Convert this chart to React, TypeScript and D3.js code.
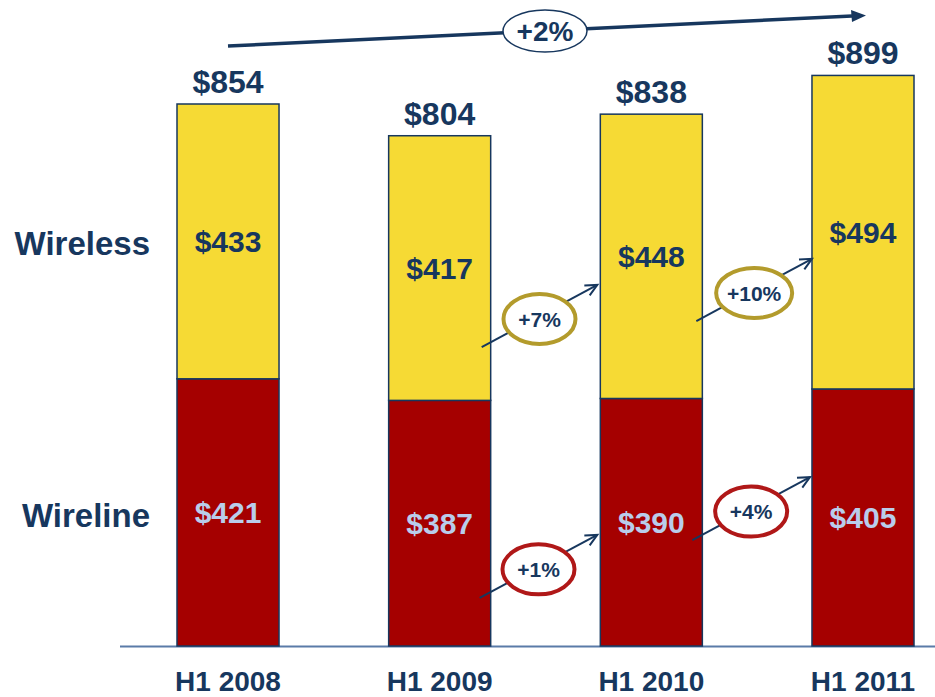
import React from "react";
import * as d3 from "d3";

const categories = ["H1 2008", "H1 2009", "H1 2010", "H1 2011"];
const wireline = [421, 387, 390, 405];
const wireless = [433, 417, 448, 494];
const totals = [854, 804, 838, 899];
const seriesNames = ["Wireless", "Wireline"];
const wirelessGrowth = ["+7%", "+10%"];
const wirelineGrowth = ["+1%", "+4%"];
const overallGrowth = "+2%";
// arrow start/end levels (value units) for growth annotations
const wirelessArrowLevels = [[471, 569], [512, 610]];
const wirelineArrowLevels = [[76, 175], [167, 266]];

const W = 935;
const H = 697;
const NAVY = "#17375E";
const YELLOW = "#F6DA34";
const RED = "#A50000";
const LIGHT = "#B9CDEB";
const GOLD = "#B39B2C";
const RING_RED = "#B01818";
const FONT = "'Liberation Sans', Arial, sans-serif";

export default function App() {
  const x = d3.scaleBand<string>().domain(categories).range([177, 914]).paddingInner(0.518).paddingOuter(0);
  const y = d3.scaleLinear().domain([0, 854]).range([646, 104]);
  const bw = x.bandwidth();

  const stack = d3.stack<any>().keys(["wireline", "wireless"])(
    categories.map((c, i) => ({ cat: c, wireline: wireline[i], wireless: wireless[i] }))
  );

  const growthArrow = (i: number, v0: number, v1: number, label: string, ring: string, key: string, dx0: number, dx1: number) => {
    const x0 = (x(categories[i]) as number) + bw + dx0;
    const x1 = (x(categories[i + 1]) as number) + dx1;
    const y0 = y(v0);
    const y1 = y(v1);
    const cx = x0 + (x1 - x0) * 0.5;
    const cy = y0 + (y1 - y0) * 0.5 + 3;
    const ang = Math.atan2(y1 - y0, x1 - x0);
    const ah = 13;
    const a1 = ang + Math.PI - 0.45;
    const a2 = ang + Math.PI + 0.45;
    return (
      <g key={key}>
        <line x1={x0} y1={y0} x2={x1} y2={y1} stroke={NAVY} strokeWidth={2} />
        <polyline
          points={`${x1 + ah * Math.cos(a1)},${y1 + ah * Math.sin(a1)} ${x1},${y1} ${x1 + ah * Math.cos(a2)},${y1 + ah * Math.sin(a2)}`}
          fill="none"
          stroke={NAVY}
          strokeWidth={2}
        />
        <ellipse cx={cx} cy={cy} rx={label.length > 3 ? 38 : 36} ry={25} fill="white" stroke={ring} strokeWidth={4} />
        <text x={cx} y={cy} dy="0.36em" textAnchor="middle" fontFamily={FONT} fontWeight="bold" fontSize={21} fill={NAVY}>
          {label}
        </text>
      </g>
    );
  };

  return (
    <svg width={W} height={H} style={{ display: "block", position: "absolute", left: 0, top: 0 }}>
      <rect x={0} y={0} width={W} height={H} fill="white" />
      {/* axis baseline */}
      <line x1={120} x2={W} y1={646.5} y2={646.5} stroke="#5A7BA8" strokeWidth={2} />
      {/* bars */}
      {stack.map((layer, li) =>
        layer.map((d, i) => (
          <rect
            key={`${li}-${i}`}
            x={x(categories[i]) as number}
            y={y(d[1])}
            width={bw}
            height={y(d[0]) - y(d[1])}
            fill={li === 0 ? RED : YELLOW}
            stroke={NAVY}
            strokeWidth={1.5}
          />
        ))
      )}
      {/* inside labels */}
      {categories.map((c, i) => (
        <g key={c}>
          <text
            x={(x(c) as number) + bw / 2}
            y={y(wireline[i] / 2)}
            dy="0.36em"
            textAnchor="middle"
            fontFamily={FONT}
            fontWeight="bold"
            fontSize={30}
            fill={LIGHT}
          >
            ${wireline[i]}
          </text>
          <text
            x={(x(c) as number) + bw / 2}
            y={y(wireline[i] + wireless[i] / 2)}
            dy="0.36em"
            textAnchor="middle"
            fontFamily={FONT}
            fontWeight="bold"
            fontSize={30}
            fill={NAVY}
          >
            ${wireless[i]}
          </text>
          <text
            x={(x(c) as number) + bw / 2}
            y={y(totals[i]) - 11}
            textAnchor="middle"
            fontFamily={FONT}
            fontWeight="bold"
            fontSize={32}
            fill={NAVY}
          >
            ${totals[i]}
          </text>
          <text
            x={(x(c) as number) + bw / 2}
            y={691}
            textAnchor="middle"
            fontFamily={FONT}
            fontWeight="bold"
            fontSize={28}
            fill={NAVY}
          >
            {c}
          </text>
        </g>
      ))}
      {/* series labels */}
      <text x={150} y={243} dy="0.36em" textAnchor="end" fontFamily={FONT} fontWeight="bold" fontSize={33} fill={NAVY}>
        {seriesNames[0]}
      </text>
      <text x={150} y={515} dy="0.36em" textAnchor="end" fontFamily={FONT} fontWeight="bold" fontSize={33} fill={NAVY}>
        {seriesNames[1]}
      </text>
      {/* growth arrows */}
      {growthArrow(1, wirelessArrowLevels[0][0], wirelessArrowLevels[0][1], wirelessGrowth[0], GOLD, "g7", -9, -3)}
      {growthArrow(2, wirelessArrowLevels[1][0], wirelessArrowLevels[1][1], wirelessGrowth[1], GOLD, "g10", -6, 0)}
      {growthArrow(1, wirelineArrowLevels[0][0], wirelineArrowLevels[0][1], wirelineGrowth[0], RING_RED, "g1", -11, -3)}
      {growthArrow(2, wirelineArrowLevels[1][0], wirelineArrowLevels[1][1], wirelineGrowth[1], RING_RED, "g4", -10, -2)}
      {/* overall arrow */}
      <line x1={228} y1={46} x2={852} y2={16} stroke={NAVY} strokeWidth={3.5} />
      <polygon points="866,15.5 851,10 852,22" fill={NAVY} />
      <ellipse cx={545} cy={31} rx={42} ry={21} fill="white" stroke={NAVY} strokeWidth={1.5} />
      <text x={545} y={31} dy="0.36em" textAnchor="middle" fontFamily={FONT} fontWeight="bold" fontSize={28} fill={NAVY}>
        {overallGrowth}
      </text>
    </svg>
  );
}
